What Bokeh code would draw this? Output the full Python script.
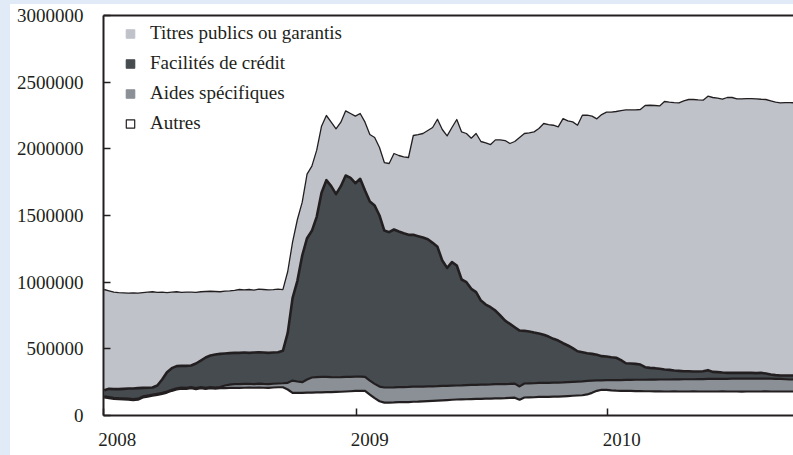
import numpy as np
import pandas as pd
from datetime import datetime
from bokeh.plotting import figure
from bokeh.layouts import row, column
from bokeh.models import (ColumnDataSource, Range1d, FixedTicker, DatetimeTickFormatter,
                          NumeralTickFormatter, DatetimeAxis, Legend, LegendItem, Spacer)
from bokeh.transform import stack
from bokeh.embed import file_html
from bokeh.resources import INLINE

# Weekly observations (Wednesdays), values in thousands
dates = pd.date_range("2008-01-02", periods=144, freq="7D")

# level of the top of each stacked layer, in thousands
niveau_total = [
    945, 935, 925, 922, 920, 918, 920, 918, 922, 925, 928, 924, 926, 922, 925, 928, 924, 926, 925, 924,
    928, 930, 932, 930, 928, 933, 935, 938, 945, 942, 945, 940, 948, 945, 942, 944, 948, 944,
    1080, 1300, 1470, 1600, 1810, 1870, 1990, 2170, 2250, 2200, 2150, 2200, 2285, 2265, 2245,
    2265, 2200, 2107, 2085, 2010, 1897, 1890, 1965, 1950, 1940, 1935, 2100, 2107, 2115, 2137, 2160,
    2222, 2145, 2097, 2160, 2220, 2127, 2115, 2080, 2115, 2055, 2045, 2032, 2067, 2067, 2062, 2040,
    2055, 2085, 2115, 2120, 2127, 2152, 2190, 2182, 2177, 2165, 2227, 2210, 2202, 2177, 2252, 2252,
    2245, 2225, 2257, 2275,
    2275, 2280, 2287, 2292, 2292, 2292, 2295, 2325, 2327, 2325, 2322, 2355, 2350, 2347, 2345, 2360,
    2370, 2370, 2367, 2365, 2395, 2385, 2380, 2372, 2385, 2385, 2375, 2375, 2377, 2377, 2375, 2372,
    2370, 2360, 2350, 2345, 2347, 2347, 2345]

niveau_facilites = [
    190, 200, 198, 198, 200, 202, 203, 205, 207, 208, 210, 225, 270, 325, 355, 370, 372, 372, 375, 390,
    412, 435, 450, 457, 462, 465, 468, 470, 470, 472, 470, 472, 474, 472, 470, 472, 474, 485,
    620, 880, 1010, 1200, 1330, 1385, 1490, 1670, 1765, 1720, 1660, 1720, 1800, 1782, 1742,
    1775, 1687, 1605, 1575, 1500, 1387, 1375, 1395, 1380, 1367, 1355, 1355, 1345, 1335, 1322, 1295,
    1265, 1162, 1107, 1150, 1125, 1020, 1000, 950, 925, 862, 832, 812, 787, 750, 712, 687, 662, 637,
    635, 630, 622, 615, 605, 592, 575, 562, 542, 525, 505, 482, 475, 467, 462, 455, 445, 443,
    437, 433, 415, 392, 390, 387, 382, 362, 357, 355, 350, 345, 342, 337, 335, 332, 332, 330, 330, 332,
    340, 327, 325, 322, 320, 320, 320, 320, 320, 320, 318, 320, 315, 307, 303, 300, 300, 300, 300]

niveau_aides = [
    143, 138, 133, 130, 128, 126, 123, 126, 143, 150, 156, 163, 170, 180, 193, 203, 210, 208, 213, 206,
    213, 208, 213, 210, 213, 225, 232, 236, 235, 237, 238, 236, 239, 237, 236, 238, 240, 242,
    245, 262, 255, 250, 270, 285, 288, 290, 290, 288, 287, 288, 290, 290, 292, 292, 290, 262, 237, 217, 210,
    210, 211, 213, 213, 214, 216, 216, 217, 219, 219, 220, 222, 222, 224, 225, 226, 228, 229, 230, 231,
    232, 233, 235, 235, 236, 237, 239, 218, 240, 241, 242, 244, 244, 245, 246, 247, 248, 250, 252, 254,
    256, 259, 262, 263, 264, 265,
    265, 266, 266, 267, 267, 268, 268, 268, 269, 269, 270, 270, 270, 271, 271, 272, 272, 272, 273, 273,
    274, 274, 274, 275, 275, 276, 276, 276, 277, 277, 277, 277, 277, 276, 275, 274, 272, 270, 270]

autres = [
    135, 130, 125, 122, 120, 118, 115, 118, 135, 142, 148, 155, 162, 172, 185, 195, 202, 200, 205, 198,
    205, 200, 205, 202, 205, 205, 207, 208, 207, 208, 210, 208, 210, 208, 207, 210, 212, 212,
    195, 170, 170, 170, 172, 172, 173, 174, 175, 176, 177, 178, 180, 182, 184, 185, 185, 157, 130, 107, 97,
    97, 98, 100, 100, 101, 103, 104, 106, 108, 110, 112, 114, 116, 118, 120, 121, 122, 123, 124, 125,
    126, 127, 129, 129, 130, 132, 134, 118, 135, 136, 137, 139, 139, 140, 141, 142, 144, 146, 148, 150,
    152, 158, 170, 185, 193, 192,
    188, 186, 185, 184, 184, 183, 183, 182, 182, 181, 181, 180, 180, 181, 180, 180, 180, 181, 180, 180,
    180, 180, 180, 181, 180, 180, 180, 179, 180, 180, 180, 180, 181, 180, 180, 180, 180, 180, 180]

series_names = ["Titres publics ou garantis", "Facilités de crédit", "Aides spécifiques", "Autres"]
year_labels = [2008, 2009, 2010]
y_ticks = [0, 500000, 1000000, 1500000, 2000000, 2500000, 3000000]

k = 1000
a_aut = np.array(autres, dtype=float) * k
a_aid = (np.array(niveau_aides, dtype=float) - np.array(autres, dtype=float)) * k
a_fac = (np.array(niveau_facilites, dtype=float) - np.array(niveau_aides, dtype=float)) * k
a_tit = (np.array(niveau_total, dtype=float) - np.array(niveau_facilites, dtype=float)) * k

src = ColumnDataSource(dict(date=dates, autres=a_aut, aides=a_aid, facilites=a_fac, titres=a_tit))

INK = "#231f20"
C_TIT = "#c0c2ca"
C_FAC = "#454b4f"
C_AID = "#8b9096"
C_AUT = "#ffffff"
PAGE = "#e1eaf7"
FONT = "Liberation Serif"
FS = "19px"

p = figure(width=783, height=451, output_backend="svg", toolbar_location=None,
           x_axis_type="datetime",
           x_range=Range1d(datetime(2008, 1, 1), datetime(2010, 9, 27)),
           y_range=Range1d(0, 3000000),
           min_border_left=93, min_border_right=0, min_border_top=11, min_border_bottom=40)
p.outline_line_color = None
p.grid.visible = False
p.background_fill_color = "white"
p.border_fill_color = "white"

p.varea_stack(["autres", "aides", "facilites", "titres"], x="date",
              color=[C_AUT, C_AID, C_FAC, C_TIT], source=src)

p.line("date", stack("autres"), line_width=2.2, color=INK, line_join="round", source=src)
p.line("date", stack("autres", "aides"), line_width=2.2, color=INK, line_join="round", source=src)
p.line("date", stack("autres", "aides", "facilites"), line_width=2.6, color=INK, line_join="round", source=src)
p.line("date", stack("autres", "aides", "facilites", "titres"), line_width=1.3, color=INK,
       line_join="round", source=src)

# legend swatches: zero-size markers lying on the bottom boundary line (invisible in the plot)
sw = []
for col, lc in [(C_TIT, C_TIT), (C_FAC, C_FAC), (C_AID, C_AID), (C_AUT, INK)]:
    sw.append(p.scatter("date", stack("autres"), source=src, size=0, marker="square",
                        fill_color=col, line_color=lc, line_width=1.2))
legend = Legend(items=[LegendItem(label=n, renderers=[r]) for n, r in zip(series_names, sw)],
                location="top_left", margin=7, padding=0, spacing=8,
                glyph_width=40, glyph_height=21, label_height=21, label_standoff=0,
                label_text_font=FONT, label_text_font_size=FS, label_text_color=INK,
                border_line_color=None, background_fill_alpha=0)
p.add_layout(legend, "center")

# x axis: tick marks at Jan 1, labels slightly to the right
xa = p.xaxis[0]
label_pos = [pd.Timestamp(f"{y}-01-21").value / 1e6 for y in year_labels]
tick_pos = [pd.Timestamp(f"{y}-01-01").value / 1e6 for y in year_labels]
xa.ticker = FixedTicker(ticks=label_pos, minor_ticks=tick_pos)
xa.formatter = DatetimeTickFormatter(years="%Y", months="%Y", days="%Y", hours="%Y",
                                     minutes="%Y", seconds="%Y", milliseconds="%Y")
xa.major_tick_in = 0
xa.major_tick_out = 0
xa.minor_tick_in = 7
xa.minor_tick_out = 0
xa.minor_tick_line_color = INK
xa.minor_tick_line_width = 1.5
xa.axis_line_color = INK
xa.axis_line_width = 2
xa.major_label_text_font = FONT
xa.major_label_text_font_size = FS
xa.major_label_text_color = INK
xa.major_label_standoff = 17

ya = p.yaxis[0]
ya.ticker = FixedTicker(ticks=y_ticks, minor_ticks=[])
ya.formatter = NumeralTickFormatter(format="0")
ya.major_tick_in = 7
ya.major_tick_out = 0
ya.major_tick_line_color = INK
ya.major_tick_line_width = 1.5
ya.minor_tick_in = 0
ya.minor_tick_out = 0
ya.axis_line_color = INK
ya.axis_line_width = 2
ya.major_label_text_font = FONT
ya.major_label_text_font_size = FS
ya.major_label_text_color = INK
ya.major_label_standoff = 20

# top border line
top = DatetimeAxis(ticker=FixedTicker(ticks=[], minor_ticks=[]),
                   axis_line_color=INK, axis_line_width=2,
                   major_tick_in=0, major_tick_out=0, minor_tick_in=0, minor_tick_out=0,
                   major_label_standoff=0)
p.add_layout(top, "above")

left_strip = Spacer(width=10, height=455, styles={"background-color": PAGE})
top_strip = Spacer(width=783, height=4, styles={"background-color": PAGE})
page = row(left_strip, column(top_strip, p, spacing=0), spacing=0)

open("out.html", "w").write(file_html(page, INLINE))
